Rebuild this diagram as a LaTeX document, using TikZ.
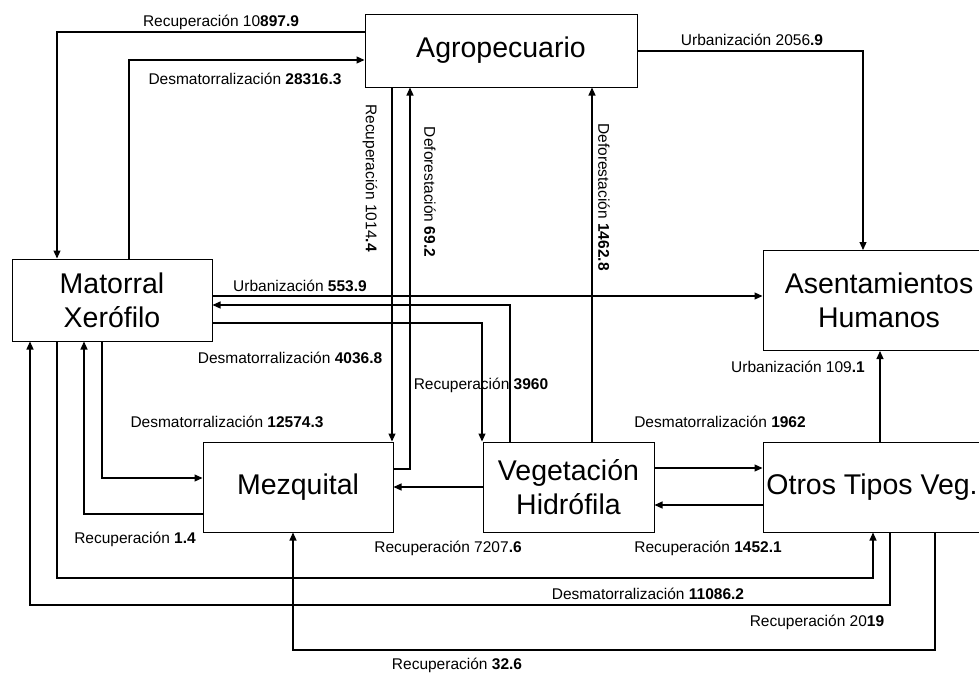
\documentclass[tikz,border=0pt]{standalone}
\usepackage{fontspec}
\setmainfont{Liberation Sans}
\usetikzlibrary{arrows.meta}
\begin{document}
\begin{tikzpicture}[x=1pt,y=-1pt,
  box/.style={draw, line width=1pt, inner sep=0pt, align=center,
    font=\fontsize{28.5}{34}\selectfont},
  arr/.style={line width=1.1pt, -{Triangle[length=8pt,width=7pt]}},
  lbl/.style={inner sep=0pt, font=\fontsize{15.5}{18}\selectfont},
]
\fill[white] (0,0) rectangle (979,672);
\useasboundingbox (0,0) rectangle (979,672);

% land-cover classes
\node[box, minimum width=272pt, minimum height=73pt]  (agro) at (501,50.5)  {Agropecuario};
\node[box, minimum width=232pt, minimum height=100pt] (ase)  at (879,300.5) {Asentamientos\\Humanos};
\node[box, minimum width=200pt, minimum height=82pt]  (mat)  at (112,300)   {Matorral\\Xerófilo};
\node[box, minimum width=190pt, minimum height=90pt]  (mez)  at (298,487)   {Mezquital};
\node[box, minimum width=171pt, minimum height=90pt]  (veg)  at (568.5,487) {Vegetación\\Hidrófila};
\node[box, minimum width=218pt, minimum height=90pt]  (otr)  at (872,487)   {Otros Tipos Veg.};

% routing points of the connectors
\coordinate (r1)  at (57,32);
\coordinate (d1)  at (129,60);
\coordinate (x3)  at (392,0);
\coordinate (p4)  at (410,469);
\coordinate (x5)  at (592,0);
\coordinate (p6)  at (863,51);
\coordinate (y7)  at (0,296);
\coordinate (p8)  at (510,305);
\coordinate (p9)  at (482,323);
\coordinate (p10) at (102,478);
\coordinate (p11) at (84,514);
\coordinate (a12) at (57,578);
\coordinate (b12) at (873,578);
\coordinate (a13) at (890,605);
\coordinate (b13) at (30,605);
\coordinate (a14) at (935,650);
\coordinate (b14) at (293,650);
\coordinate (y16) at (0,468);
\coordinate (y17) at (0,505);
\coordinate (x18) at (880,0);

% transitions
\draw[arr] (agro.west |- r1) -| (mat.north -| r1);
\draw[arr] (mat.north -| d1) |- (agro.west |- d1);
\draw[arr] (agro.south -| x3) -- (mez.north -| x3);
\draw[arr] (mez.east |- p4) -| (agro.south -| p4);
\draw[arr] (veg.north -| x5) -- (agro.south -| x5);
\draw[arr] (agro.east |- p6) -| (ase.north -| p6);
\draw[arr] (mat.east |- y7) -- (ase.west |- y7);
\draw[arr] (veg.north -| p8) |- (mat.east |- p8);
\draw[arr] (mat.east |- p9) -| (veg.north -| p9);
\draw[arr] (mat.south -| p10) |- (mez.west |- p10);
\draw[arr] (mez.west |- p11) -| (mat.south -| p11);
\draw[arr] (mat.south -| a12) |- (b12) -- (otr.south -| b12);
\draw[arr] (otr.south -| a13) |- (b13) -- (mat.south -| b13);
\draw[arr] (otr.south -| a14) |- (b14) -- (mez.south -| b14);
\draw[arr] (veg.west) -- (mez.east);
\draw[arr] (veg.east |- y16) -- (otr.west |- y16);
\draw[arr] (otr.west |- y17) -- (veg.east |- y17);
\draw[arr] (otr.north -| x18) -- (ase.south -| x18);

% transition labels (ha)
\node[lbl] (l1)  at (221,22)   {Recuperación 10\textbf{897.9}};
\node[lbl] (l2)  at (245,78.5) {Desmatorralización \textbf{28316.3}};
\node[lbl] (l3)  at (752,40)   {Urbanización 2056\textbf{.9}};
\node[lbl, rotate=-90] (l4) at (370,178) {Recuperación 1014\textbf{.4}};
\node[lbl, rotate=-90] (l5) at (430,192) {Deforestación \textbf{69.2}};
\node[lbl, rotate=-90] (l6) at (604,197) {Deforestación \textbf{1462.8}};
\node[lbl] (l7)  at (300,285.5) {Urbanización \textbf{553.9}};
\node[lbl] (l8)  at (290,358)  {Desmatorralización \textbf{4036.8}};
\node[lbl] (l9)  at (481,385.5) {Recuperación \textbf{3960}};
\node[lbl] (l10) at (227,422)  {Desmatorralización \textbf{12574.3}};
\node[lbl] (l11) at (720,422)  {Desmatorralización \textbf{1962}};
\node[lbl] (l12) at (798,367)  {Urbanización 109\textbf{.1}};
\node[lbl] (l13) at (135,539)  {Recuperación \textbf{1.4}};
\node[lbl] (l14) at (448,548)  {Recuperación 7207\textbf{.6}};
\node[lbl] (l15) at (708,548)  {Recuperación \textbf{1452.1}};
\node[lbl] (l16) at (648,594)  {Desmatorralización \textbf{11086.2}};
\node[lbl] (l17) at (817,622)  {Recuperación 20\textbf{19}};
\node[lbl] (l18) at (457,665)  {Recuperación \textbf{32.6}};
\end{tikzpicture}
\end{document}
